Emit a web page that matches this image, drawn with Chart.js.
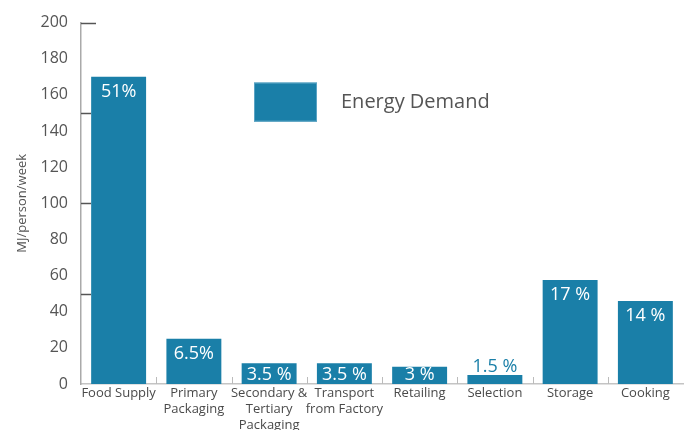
<!DOCTYPE html>
<html>
<head>
<meta charset="utf-8">
<script src="https://cdn.jsdelivr.net/npm/chart.js@4"></script>
<style>
  html, body { margin: 0; padding: 0; background: #fff; }
  #wrap { width: 690px; height: 430px; }
</style>
</head>
<body>
<div id="wrap"><canvas id="energyChart" width="690" height="430"></canvas></div>
<script>
// stages of the food chain and their weekly energy demand
var stages = [
  'Food Supply',
  ['Primary', 'Packaging'],
  ['Secondary &', 'Tertiary', 'Packaging'],
  ['Transport', 'from Factory'],
  'Retailing',
  'Selection',
  'Storage',
  'Cooking'
];
var energyDemand = [170, 25, 11.5, 11.5, 9.5, 5, 57.5, 46];
var shareLabels = ['51%', '6.5%', '3.5 %', '3.5 %', '3 %', '1.5 %', '17 %', '14 %'];
var markedTicks = [50, 100, 150, 200];

var barBlue = '#1a7fa8';
var textGrey = '#555555';

// percentage labels on the bars (white inside, blue above when the bar is too short)
var shareLabelPlugin = {
  id: 'shareLabels',
  afterDatasetsDraw: function(chart) {
    var ctx = chart.ctx;
    var meta = chart.getDatasetMeta(0);
    ctx.save();
    ctx.font = '18px "Open Sans"';
    ctx.textAlign = 'center';
    ctx.textBaseline = 'middle';
    meta.data.forEach(function(bar, i) {
      var h = bar.base - bar.y;
      if (h < 15) {
        ctx.fillStyle = barBlue;
        ctx.fillText(shareLabels[i], bar.x, bar.y - 8);
      } else {
        ctx.fillStyle = '#ffffff';
        ctx.fillText(shareLabels[i], bar.x, Math.min(bar.y + 15, bar.base - 9));
      }
    });
    ctx.restore();
  }
};

// axis marks: short y ticks every 50, small x ticks between categories, legend box
var axisMarksPlugin = {
  id: 'axisMarks',
  afterDraw: function(chart) {
    var ctx = chart.ctx;
    var area = chart.chartArea;
    var y = chart.scales.y;
    var x = chart.scales.x;
    ctx.save();
    ctx.strokeStyle = '#555555';
    ctx.lineWidth = 1.5;
    markedTicks.forEach(function(v) {
      var py = Math.round(y.getPixelForValue(v)) + 0.5;
      var len = v === 200 ? 15 : 10;
      ctx.beginPath();
      ctx.moveTo(area.left, py);
      ctx.lineTo(area.left + len, py);
      ctx.stroke();
    });
    ctx.strokeStyle = '#bbbbbb';
    ctx.lineWidth = 1;
    for (var i = 0; i < stages.length - 1; i++) {
      var px = Math.round((x.getPixelForValue(i) + x.getPixelForValue(i + 1)) / 2) + 0.5;
      ctx.beginPath();
      ctx.moveTo(px, area.bottom);
      ctx.lineTo(px, area.bottom - 7);
      ctx.stroke();
    }
    // legend
    var lx = area.left + 173, ly = area.top + 60;
    ctx.fillStyle = barBlue;
    ctx.fillRect(lx, ly, 63, 39);
    ctx.strokeStyle = '#5aa3c4';
    ctx.strokeRect(lx + 0.5, ly + 0.5, 62, 38);
    ctx.fillStyle = textGrey;
    ctx.font = '20px "Open Sans"';
    ctx.textAlign = 'left';
    ctx.textBaseline = 'middle';
    ctx.fillText('Energy Demand', lx + 87, ly + 20);
    ctx.restore();
  }
};

var ctx = document.getElementById('energyChart').getContext('2d');
var energyChart = new Chart(ctx, {
  type: 'bar',
  data: {
    labels: stages,
    datasets: [{
      label: 'Energy Demand',
      data: energyDemand,
      backgroundColor: barBlue,
      borderWidth: 0,
      categoryPercentage: 1,
      barPercentage: 0.73
    }]
  },
  options: {
    responsive: false,
    animation: false,
    layout: { padding: { top: 21, right: 7, bottom: 0, left: 0 } },
    plugins: {
      legend: { display: false },
      tooltip: { enabled: false }
    },
    scales: {
      x: {
        grid: { display: false, drawTicks: false },
        border: { display: true, color: '#c4c4c4', width: 1.5 },
        ticks: {
          color: '#4a4a4a',
          font: { family: 'Open Sans', size: 13, lineHeight: '16px' },
          padding: 1,
          maxRotation: 0,
          autoSkip: false
        },
        afterFit: function(scale) { scale.height = 46; }
      },
      y: {
        min: 0,
        max: 200,
        grid: { display: false, drawTicks: false },
        border: { display: true, color: '#aaaaaa', width: 1.5 },
        ticks: {
          stepSize: 20,
          color: textGrey,
          font: { family: 'Open Sans', size: 16 },
          padding: 13
        },
        title: {
          display: true,
          text: 'MJ/person/week',
          color: textGrey,
          font: { family: 'Open Sans', size: 13 },
          padding: { top: 14, bottom: 0 }
        },
        afterFit: function(scale) { scale.width = 81; }
      }
    }
  },
  plugins: [shareLabelPlugin, axisMarksPlugin]
});
</script>
</body>
</html>
